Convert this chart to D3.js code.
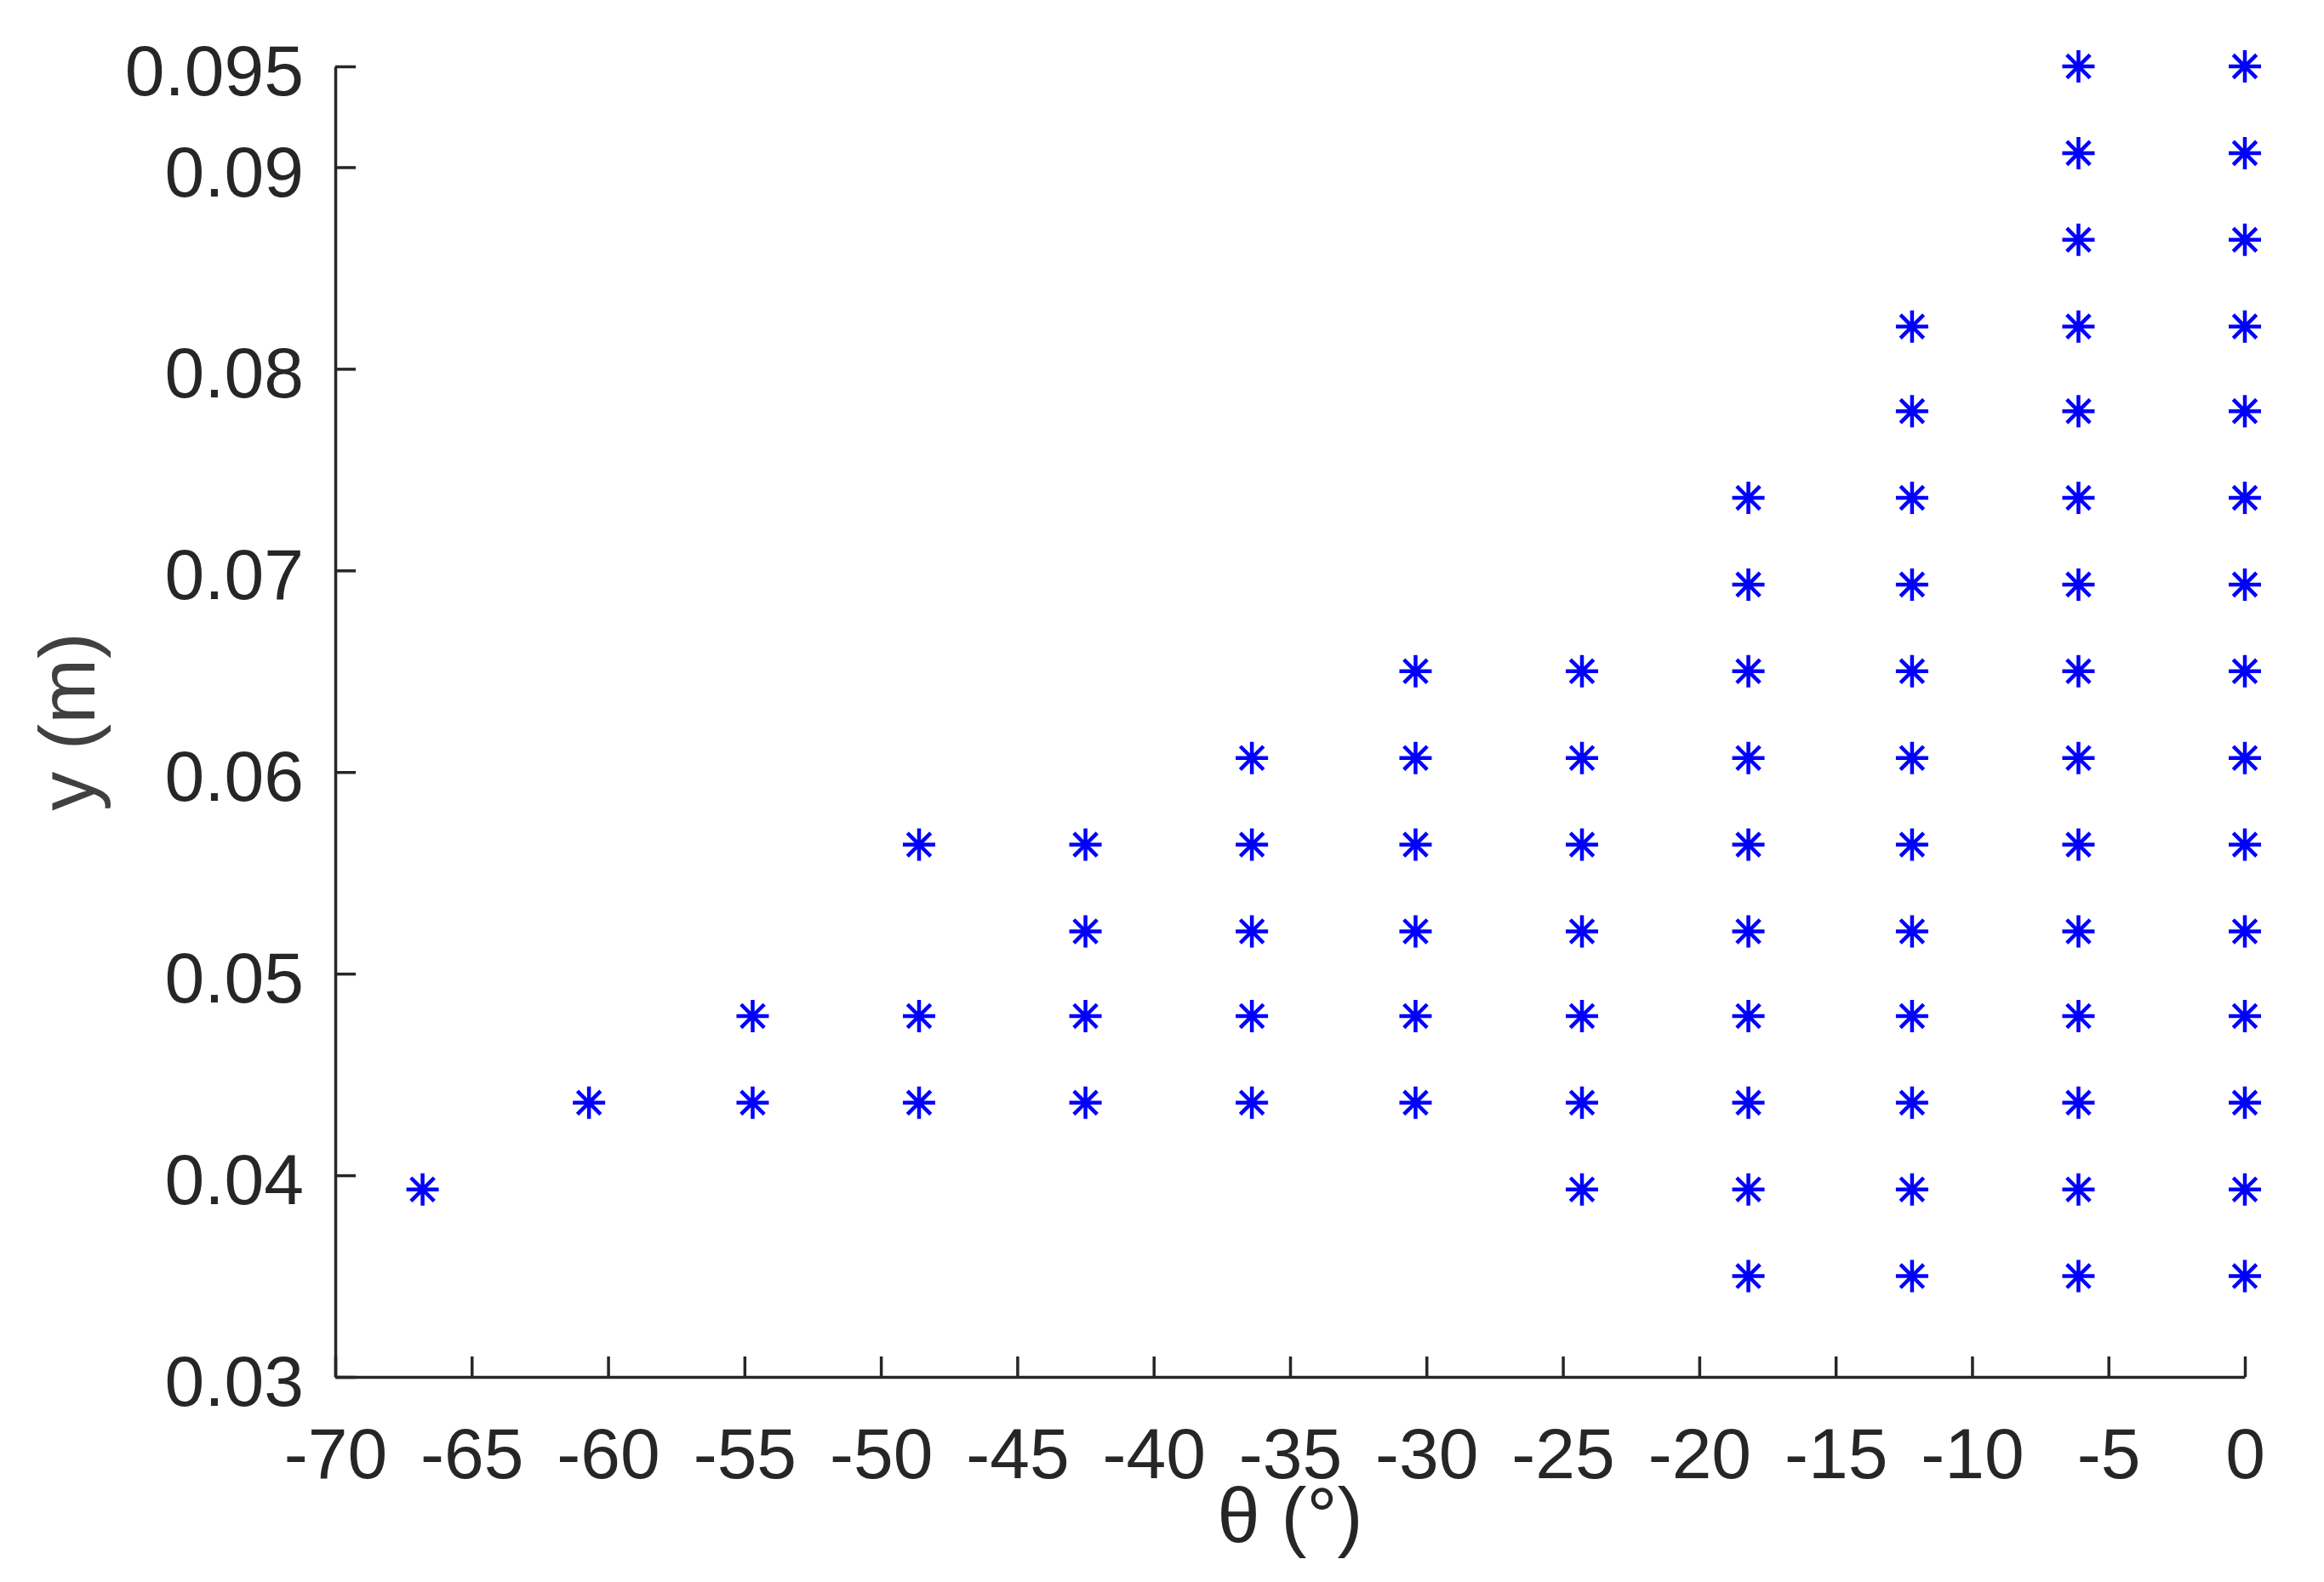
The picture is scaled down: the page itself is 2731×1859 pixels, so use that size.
<!DOCTYPE html>
<html>
<head>
<meta charset="utf-8">
<script src="https://cdn.jsdelivr.net/npm/d3@7"></script>
<style>
  html, body { margin: 0; padding: 0; background: #fff; }
  svg { display: block; }
  .tick text { font-family: "Liberation Sans", Arial, Helvetica, sans-serif; }
</style>
</head>
<body>
<div id="chart"></div>
<script>
// angle of each column (deg)
const thetaCols = [-66.8, -60.7, -54.7, -48.6, -42.5, -36.4, -30.4, -24.3, -18.2, -12.2, -6.1, 0];

// y values (m) present in each column
const yCol1  = [0.0393];
const yCol2  = [0.0436];
const yCol3  = [0.0436, 0.0479];
const yCol4  = [0.0436, 0.0479, 0.0564];
const yCol5  = [0.0436, 0.0479, 0.0521, 0.0564];
const yCol6  = [0.0436, 0.0479, 0.0521, 0.0564, 0.0607];
const yCol7  = [0.0436, 0.0479, 0.0521, 0.0564, 0.0607, 0.0650];
const yCol8  = [0.0393, 0.0436, 0.0479, 0.0521, 0.0564, 0.0607, 0.0650];
const yCol9  = [0.0350, 0.0393, 0.0436, 0.0479, 0.0521, 0.0564, 0.0607, 0.0650, 0.0693, 0.0736];
const yCol10 = [0.0350, 0.0393, 0.0436, 0.0479, 0.0521, 0.0564, 0.0607, 0.0650, 0.0693, 0.0736, 0.0779, 0.0821];
const yCol11 = [0.0350, 0.0393, 0.0436, 0.0479, 0.0521, 0.0564, 0.0607, 0.0650, 0.0693, 0.0736, 0.0779, 0.0821, 0.0864, 0.0907, 0.0950];
const yCol12 = [0.0350, 0.0393, 0.0436, 0.0479, 0.0521, 0.0564, 0.0607, 0.0650, 0.0693, 0.0736, 0.0779, 0.0821, 0.0864, 0.0907, 0.0950];
const yCols = [yCol1, yCol2, yCol3, yCol4, yCol5, yCol6, yCol7, yCol8, yCol9, yCol10, yCol11, yCol12];

const xTicks = [-70, -65, -60, -55, -50, -45, -40, -35, -30, -25, -20, -15, -10, -5, 0];
const yTicks = [0.03, 0.04, 0.05, 0.06, 0.07, 0.08, 0.09, 0.095];

const W = 2731, H = 1859;
const margin = { top: 78, right: 93, bottom: 241, left: 394 };
const width = W - margin.left - margin.right,
      height = H - margin.top - margin.bottom;
const axisColor = "#262626";

// flatten the columns into points
let points = [];
thetaCols.forEach((t, i) => {
    yCols[i].forEach(v => points.push({ theta: t, y: v }));
});

let svg = d3.select("#chart")
    .append("svg")
    .attr("width", W)
    .attr("height", H);

svg.append("rect").attr("width", W).attr("height", H).attr("fill", "#fff");

let g = svg.append("g")
    .attr("transform", "translate(" + margin.left + "," + margin.top + ")");

let x = d3.scaleLinear().domain([-70, 0]).range([0, width]);
let y = d3.scaleLinear().domain([0.03, 0.095]).range([height, 0]);

// x axis, ticks pointing inward like matlab
let xAxis = g.append("g")
    .attr("transform", "translate(0," + height + ")")
    .call(d3.axisBottom(x).tickValues(xTicks).tickSizeInner(-24).tickSizeOuter(0)
        .tickPadding(0).tickFormat(d => d3.format("d")(d).replace("−", "-")));
xAxis.select(".domain").attr("stroke", axisColor).attr("stroke-width", 3.5);
xAxis.selectAll(".tick line").attr("stroke", axisColor).attr("stroke-width", 3.5);
xAxis.selectAll(".tick text")
    .attr("fill", axisColor)
    .attr("font-size", 84)
    .attr("y", 119)
    .attr("dy", 0);

// y axis
let yAxis = g.append("g")
    .call(d3.axisLeft(y).tickValues(yTicks).tickSizeInner(-24).tickSizeOuter(0)
        .tickPadding(0).tickFormat(d => String(d)));
yAxis.select(".domain").attr("stroke", axisColor).attr("stroke-width", 3.5);
yAxis.selectAll(".tick line").attr("stroke", axisColor).attr("stroke-width", 3.5);
yAxis.selectAll(".tick text")
    .attr("fill", axisColor)
    .attr("font-size", 84)
    .attr("x", -37)
    .attr("dy", "0.4em");

// axis labels
g.append("text")
    .attr("x", width / 2)
    .attr("y", 1812 - margin.top)
    .attr("text-anchor", "middle")
    .attr("font-family", "'Liberation Sans', Arial, sans-serif")
    .attr("font-size", 90)
    .attr("fill", axisColor)
    .text("θ (°)");

g.append("text")
    .attr("transform", "translate(" + (111 - margin.left) + "," + (height / 2) + ") rotate(-90)")
    .attr("text-anchor", "middle")
    .attr("font-family", "'Liberation Sans', Arial, sans-serif")
    .attr("font-size", 92)
    .attr("fill", "#404040")
    .text("y (m)");

// asterisk markers: a plus and a cross
const r = 19, rd = r * 0.72;
const starPath = "M0," + (-r) + "V" + r + "M" + (-r) + ",0H" + r +
    "M" + (-rd) + "," + (-rd) + "L" + rd + "," + rd +
    "M" + (-rd) + "," + rd + "L" + rd + "," + (-rd);

g.selectAll("path.pt")
    .data(points)
    .enter().append("path")
    .attr("class", "pt")
    .attr("transform", d => "translate(" + x(d.theta) + "," + y(d.y) + ")")
    .attr("d", starPath)
    .attr("fill", "none")
    .attr("stroke", "#0000ff")
    .attr("stroke-width", 4.5);
</script>
</body>
</html>
